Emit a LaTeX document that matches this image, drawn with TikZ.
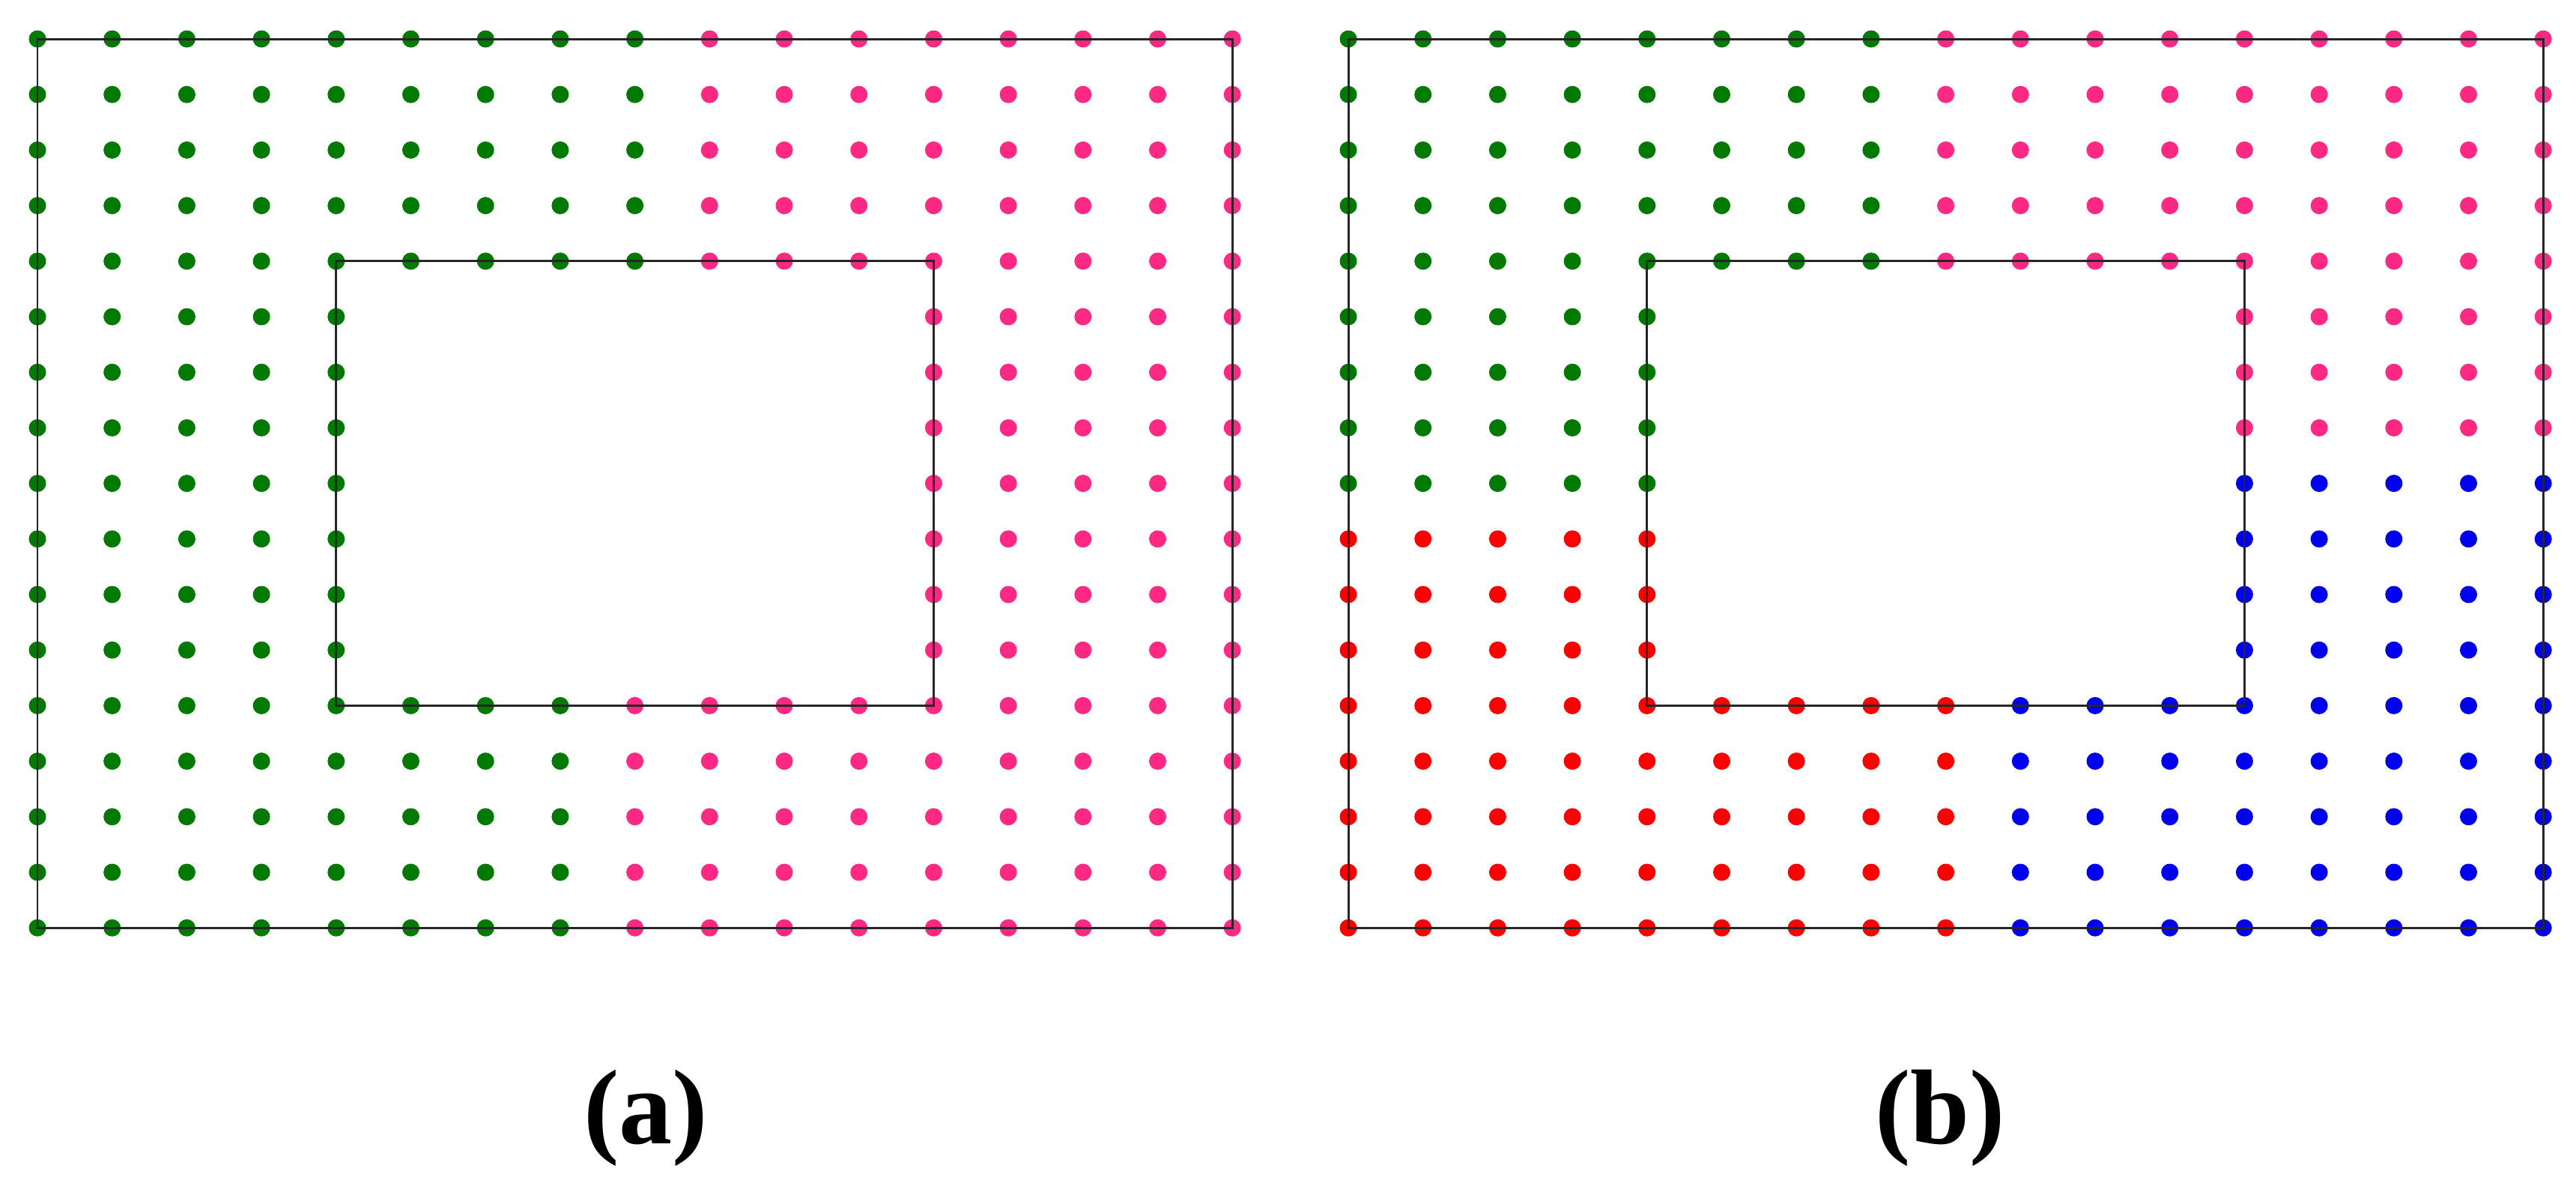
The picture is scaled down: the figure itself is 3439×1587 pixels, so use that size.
\documentclass[tikz,border=0pt]{standalone}
\usepackage{fontspec}
\setmainfont{Liberation Serif}
\definecolor{dgreen}{RGB}{0,122,0}
\definecolor{dpink}{RGB}{255,40,130}
\definecolor{dred}{RGB}{255,0,0}
\definecolor{dblue}{RGB}{0,0,240}
\newcommand\dotblock[6]{%
  \foreach \c in {#3,...,#4}{\foreach \r in {#5,...,#6}{%
    \fill[#1] ({#2+\c*99.7}, {52+\r*74.2}) circle[radius=0.115cm];}}}
\newcommand\outlines[1]{%
  \draw[outline] ({#1}, 52) rectangle ({#1+16*99.7}, {52+16*74.2});
  \draw[outline] ({#1+4*99.7}, {52+4*74.2}) rectangle ({#1+12*99.7}, {52+12*74.2});}
\begin{document}
\begin{tikzpicture}[x=0.01cm, y=-0.01cm,
  outline/.style={draw=black!85, line width=0.85pt},
  caption/.style={font=\fontsize{40.4pt}{48pt}\selectfont\bfseries, anchor=base, inner sep=0pt}]
\useasboundingbox[fill=white] (0,0) rectangle (3439,1587);
% panel (a)
\dotblock{dgreen}{50}{0}{8}{0}{4}
\dotblock{dpink}{50}{9}{16}{0}{4}
\dotblock{dgreen}{50}{0}{4}{5}{11}
\dotblock{dpink}{50}{12}{16}{5}{11}
\dotblock{dgreen}{50}{0}{7}{12}{16}
\dotblock{dpink}{50}{8}{16}{12}{16}
\outlines{50}
% panel (b)
\dotblock{dgreen}{1800}{0}{7}{0}{4}
\dotblock{dpink}{1800}{8}{16}{0}{4}
\dotblock{dgreen}{1800}{0}{4}{5}{8}
\dotblock{dpink}{1800}{12}{16}{5}{7}
\dotblock{dblue}{1800}{12}{16}{8}{11}
\dotblock{dred}{1800}{0}{4}{9}{11}
\dotblock{dred}{1800}{0}{8}{12}{16}
\dotblock{dblue}{1800}{9}{16}{12}{16}
\outlines{1800}
\node[caption] (capa) at (862,1527) {(a)};
\node[caption] (capb) at (2590,1527) {(b)};
\end{tikzpicture}
\end{document}
